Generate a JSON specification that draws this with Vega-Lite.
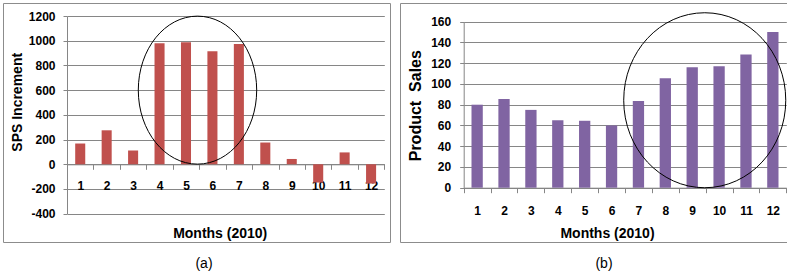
{
  "$schema": "https://vega.github.io/schema/vega-lite/v6.json",
  "padding": {"left": 2, "top": 2, "right": 0, "bottom": 0},
  "spacing": 8,
  "config": {
    "view": {"stroke": "#8c8c8c", "strokeWidth": 1},
    "axis": {
      "labelFont": "Liberation Sans", "labelFontWeight": "bold", "labelFontSize": 12, "labelColor": "#000000",
      "titleFont": "Liberation Sans", "titleFontWeight": "bold", "titleColor": "#000000",
      "domainColor": "#868686", "tickColor": "#868686", "gridColor": "#868686", "gridOpacity": 1,
      "labelOverlap": false
    }
  },
  "hconcat": [
    {
      "width": 387,
      "height": 239,
      "title": {"text": "(a)", "orient": "bottom", "frame": "group", "anchor": "middle", "dx": 7.5, "offset": 15, "baseline": "top", "fontSize": 14, "fontWeight": "normal", "font": "Liberation Sans", "color": "#000000"},
      "layer": [
        {
          "data": {"values": [
            {"month": 1, "sps": 168}, {"month": 2, "sps": 275}, {"month": 3, "sps": 112},
            {"month": 4, "sps": 979}, {"month": 5, "sps": 987}, {"month": 6, "sps": 914},
            {"month": 7, "sps": 973}, {"month": 8, "sps": 176}, {"month": 9, "sps": 43},
            {"month": 10, "sps": -148}, {"month": 11, "sps": 96}, {"month": 12, "sps": -156}
          ]},
          "mark": {"type": "bar", "color": "#c0504d", "width": {"band": 0.38}},
          "encoding": {
            "x": {"field": "month", "type": "ordinal",
              "scale": {"range": [64, 381.3], "paddingInner": 0, "paddingOuter": 0},
              "axis": {"title": "Months (2010)", "labelAngle": 0, "offset": -77.7, "tickBand": "extent", "tickSize": 5, "labelPadding": 11, "grid": false,
                "titleFontSize": 14, "titleX": 216.7, "titleY": 72.7, "titleBaseline": "alphabetic"}},
            "y": {"field": "sps", "type": "quantitative",
              "scale": {"domain": [-400, 1200], "range": [210.7, 13], "nice": false, "zero": false},
              "axis": {"title": "SPS Increment", "values": [-400, -200, 0, 200, 400, 600, 800, 1000, 1200], "tickCount": 30, "labelExpr": "'' + datum.value", "offset": -64, "grid": true, "tickSize": 4, "labelPadding": 8,
                "titleFontSize": 14, "titleX": -46, "titleY": 98.8, "titleBaseline": "alphabetic", "titleAngle": -90, "titleAlign": "center"}}
          }
        },
        {
          "data": {"values": [{"month": 5, "center": 600}]},
          "mark": {"type": "point", "shape": "M -0.8 0 A 0.8 1 0 1 1 0.8 0 A 0.8 1 0 1 1 -0.8 0 Z", "size": 21904, "filled": false, "stroke": "#000000", "strokeWidth": 1, "opacity": 1},
          "encoding": {
            "x": {"field": "month", "type": "ordinal", "bandPosition": 0.935},
            "y": {"field": "center", "type": "quantitative"}
          }
        }
      ]
    },
    {
      "width": 388,
      "height": 239,
      "title": {"text": "(b)", "orient": "bottom", "frame": "group", "anchor": "middle", "dx": 10, "offset": 15, "baseline": "top", "fontSize": 14, "fontWeight": "normal", "font": "Liberation Sans", "color": "#000000"},
      "layer": [
        {
          "data": {"values": [
            {"month": 1, "sales": 80}, {"month": 2, "sales": 85.5}, {"month": 3, "sales": 75},
            {"month": 4, "sales": 65}, {"month": 5, "sales": 64.5}, {"month": 6, "sales": 60},
            {"month": 7, "sales": 83.5}, {"month": 8, "sales": 105.5}, {"month": 9, "sales": 116},
            {"month": 10, "sales": 117}, {"month": 11, "sales": 128.5}, {"month": 12, "sales": 150}
          ]},
          "mark": {"type": "bar", "color": "#8064a2", "width": {"band": 0.42}},
          "encoding": {
            "x": {"field": "month", "type": "ordinal",
              "scale": {"range": [63.7, 386.3], "paddingInner": 0, "paddingOuter": 0},
              "axis": {"title": "Months (2010)", "labelAngle": 0, "offset": -54.3, "tickBand": "extent", "tickSize": 5, "labelPadding": 13, "grid": false,
                "titleFontSize": 14, "titleX": 207, "titleY": 49.3, "titleBaseline": "alphabetic"}},
            "y": {"field": "sales", "type": "quantitative",
              "scale": {"domain": [0, 160], "range": [184.7, 18.7], "nice": false},
              "axis": {"title": "Product\u00a0 Sales", "values": [0, 20, 40, 60, 80, 100, 120, 140, 160], "tickCount": 30, "labelExpr": "'' + datum.value", "offset": -63.7, "grid": true, "tickSize": 4, "labelPadding": 9,
                "titleFontSize": 16, "titleX": -43.4, "titleY": 102.2, "titleBaseline": "alphabetic", "titleAngle": -90, "titleAlign": "center"}}
          }
        },
        {
          "data": {"values": [{"month": 9, "center": 84.3}]},
          "mark": {"type": "point", "shape": "M -0.926 0 A 0.926 1 0 1 1 0.926 0 A 0.926 1 0 1 1 -0.926 0 Z", "size": 30625, "filled": false, "stroke": "#000000", "strokeWidth": 1, "opacity": 1},
          "encoding": {
            "x": {"field": "month", "type": "ordinal", "bandPosition": 0.966},
            "y": {"field": "center", "type": "quantitative"}
          }
        }
      ]
    }
  ]
}
